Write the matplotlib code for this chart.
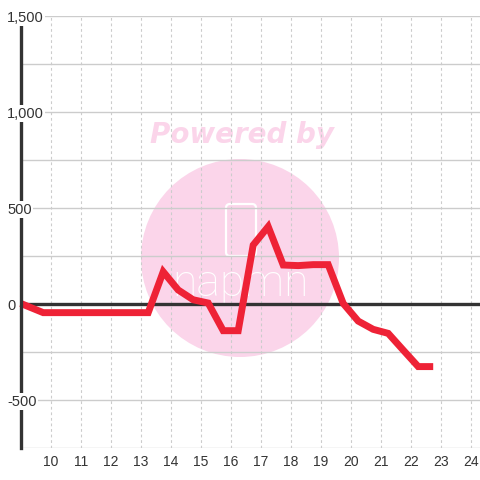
import matplotlib
matplotlib.use("Agg")
import matplotlib.pyplot as plt
import matplotlib.patches as mpatches
import matplotlib.transforms as mtransforms
import numpy as np

# -------------------------------
# Data
# -------------------------------
hours = [9.0, 9.75, 10.25, 10.75, 11.25, 11.75, 12.25, 12.75, 13.25, 13.75,
         14.25, 14.75, 15.25, 15.75, 16.25, 16.75, 17.25, 17.75, 18.25, 18.75,
         19.25, 19.75, 20.25, 20.75, 21.25, 21.75, 22.25, 22.75]
values = [3, -45, -45, -45, -45, -45, -45, -45, -45, 168,
          73, 22, 5, -139, -139, 307, 403, 203, 200, 205,
          205, 3, -89, -132, -153, -240, -326, -326]

x_ticks = list(range(10, 25))
x_labels = [str(t) for t in x_ticks]
y_ticks = [-500, 0, 500, 1000, 1500]
y_labels = ["-500", "0", "500", "1,000", "1,500"]
y_grid = np.arange(-750, 1501, 250)

plt.rcParams["font.family"] = ["Liberation Sans", "DejaVu Sans"]

# -------------------------------
# Figure / axes
# -------------------------------
fig = plt.figure(figsize=(4.8, 4.8), dpi=100)
ax = fig.add_axes([20.7 / 480, 32 / 480, (480 - 20.7) / 480, 432 / 480])
ax.set_xlim(9.0, 24.31)
ax.set_ylim(-750, 1500)

# watermark (behind grid)
pink = "#fbd5ea"
ax.add_patch(mpatches.Circle((2.40, 2.22), 0.99, transform=fig.dpi_scale_trans,
                             facecolor=pink, edgecolor="none", zorder=0.6, clip_on=False))
ax.add_patch(mpatches.FancyBboxPatch((2.26, 2.24), 0.30, 0.52,
                                     boxstyle="round,pad=0,rounding_size=0.04",
                                     transform=fig.dpi_scale_trans, facecolor="none",
                                     edgecolor="white", linewidth=1.6, zorder=0.7, clip_on=False))
ax.text(242 / 480, 1 - 135 / 480, "Powered by", transform=fig.transFigure,
        ha="center", va="center", fontsize=20, fontweight="bold", style="italic",
        color=pink, family="DejaVu Sans", zorder=0.6)
ax.text(240 / 480, 1 - 284 / 480, "napmn", transform=fig.transFigure,
        ha="center", va="center", fontsize=32, fontweight="light", color="white",
        family=["Roboto", "DejaVu Sans"], zorder=0.7)

# grid
ax.set_yticks(y_grid)
ax.set_yticklabels([])
ax.set_xticks(x_ticks)
ax.set_xticklabels(x_labels)
ax.tick_params(axis="both", length=0)
ax.tick_params(axis="x", pad=5, labelsize=10, labelcolor="#333333")
ax.yaxis.grid(True, color="#cccccc", linewidth=1)
ax.xaxis.grid(True, color="#cccccc", linewidth=0.8, linestyle=(0, (2.5, 2.5)))

for side in ["top", "right", "bottom"]:
    ax.spines[side].set_visible(False)
ax.spines["left"].set_color("#333333")
ax.spines["left"].set_linewidth(2.4)
ax.spines["left"].set_zorder(3)

# zero line
ax.axhline(0, color="#333333", linewidth=2.4, zorder=1.8)

# main series
ax.plot(hours, values, color="#ee2236", linewidth=5, solid_joinstyle="miter",
        solid_capstyle="butt", zorder=2.5, clip_on=False)

# y labels sit on top of the axis line with a white box
lab_trans = mtransforms.blended_transform_factory(ax.transAxes, ax.transData)
for v, lab in zip(y_ticks, y_labels):
    ax.text(-0.0298, v, lab, transform=lab_trans, ha="left", va="center_baseline",
            fontsize=10.5, color="#333333", zorder=5, clip_on=False,
            bbox=dict(facecolor="white", edgecolor="none", pad=1.2))

fig.savefig("out.png", dpi=100)
